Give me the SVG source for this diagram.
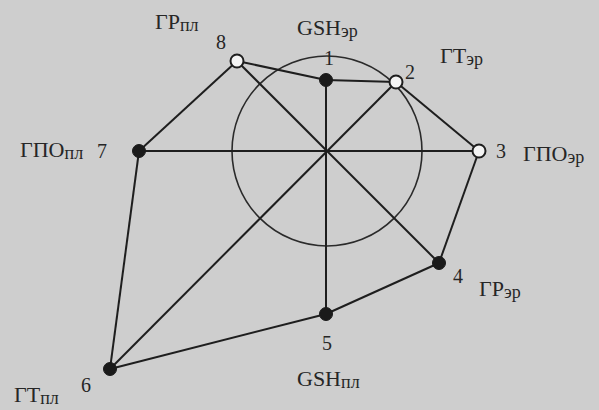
<svg xmlns="http://www.w3.org/2000/svg" width="599" height="410" viewBox="0 0 599 410">
<style>
.e{stroke:#1e1e1e;stroke-width:2;fill:none}
.c{stroke:#2a2a2a;stroke-width:1.6;fill:none}
.f{fill:#1a1a1a;stroke:#1a1a1a;stroke-width:1}
.o{fill:#f4f4f4;stroke:#1e1e1e;stroke-width:2}
text{font-family:"Liberation Serif","Times New Roman",serif;font-size:22px;fill:#262626}
.d{font-size:20px}
.s{font-size:18px}
</style>
<rect width="599" height="410" fill="#cecece"/>
<g id="connectors">
<circle class="c" cx="327" cy="151" r="95"/>
<line class="e" x1="237" y1="61" x2="326" y2="80"/>
<line class="e" x1="326" y1="80" x2="396" y2="82"/>
<line class="e" x1="237" y1="61" x2="139" y2="151"/>
<line class="e" x1="237" y1="61" x2="439" y2="263"/>
<line class="e" x1="396" y1="82" x2="110" y2="369"/>
<line class="e" x1="396" y1="82" x2="479" y2="151"/>
<line class="e" x1="479" y1="151" x2="439" y2="263"/>
<line class="e" x1="139" y1="151" x2="479" y2="151"/>
<line class="e" x1="326" y1="80" x2="326" y2="314"/>
<line class="e" x1="439" y1="263" x2="326" y2="314"/>
<line class="e" x1="326" y1="314" x2="110" y2="369"/>
<line class="e" x1="139" y1="151" x2="110" y2="369"/>
</g>
<g id="n1"><circle class="f" cx="326" cy="80" r="6.5"/><text class="d" x="324" y="65">1</text><text x="297" y="35">GSH<tspan class="s" dy="2">эр</tspan></text></g>
<g id="n2"><circle class="o" cx="396" cy="82" r="6.5"/><text class="d" x="405" y="79">2</text><text x="440" y="63">ГТ<tspan class="s" dy="2">эр</tspan></text></g>
<g id="n3"><circle class="o" cx="479" cy="151" r="6.5"/><text class="d" x="496" y="158">3</text><text x="523" y="161">ГПО<tspan class="s" dy="2">эр</tspan></text></g>
<g id="n4"><circle class="f" cx="439" cy="263" r="6.5"/><text class="d" x="453" y="283">4</text><text x="479" y="296">ГР<tspan class="s" dy="2">эр</tspan></text></g>
<g id="n5"><circle class="f" cx="326" cy="314" r="6.5"/><text class="d" x="322" y="350">5</text><text x="297" y="386">GSH<tspan class="s" dy="2">пл</tspan></text></g>
<g id="n6"><circle class="f" cx="110" cy="369" r="6.5"/><text class="d" x="81" y="392">6</text><text x="14" y="402">ГТ<tspan class="s" dy="2">пл</tspan></text></g>
<g id="n7"><circle class="f" cx="139" cy="151" r="6.5"/><text class="d" x="97" y="158">7</text><text x="20" y="157">ГПО<tspan class="s" dy="2">пл</tspan></text></g>
<g id="n8"><circle class="o" cx="237" cy="61" r="6.5"/><text class="d" x="216" y="49">8</text><text x="155" y="29">ГР<tspan class="s" dy="2">пл</tspan></text></g>
</svg>
